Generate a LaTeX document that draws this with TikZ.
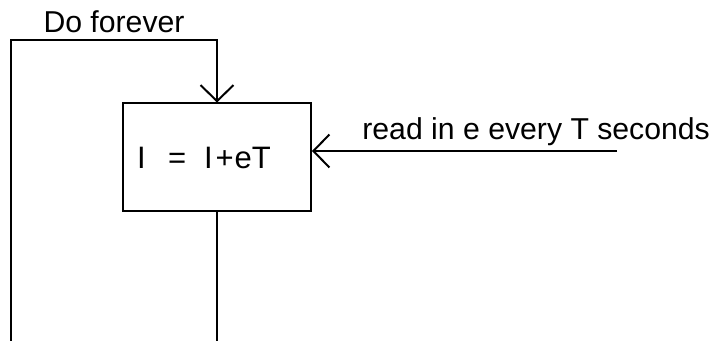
\documentclass[tikz,border=0pt]{standalone}
\usepackage{fontspec}
\setmainfont{Liberation Sans}
\usetikzlibrary{arrows.meta,positioning}
\tikzset{
  % the update block
  blk/.style={rectangle,draw,line width=1pt,minimum width=94pt,minimum height=54pt,inner sep=0pt,font=\fontsize{15.5}{18}\selectfont},
  % wires, with and without open arrow head
  wire/.style={line width=1pt},
  flow/.style={line width=1pt,-{Straight Barb[length=8pt,width=16.5pt,line width=1pt]}},
  % plain text labels
  lbl/.style={inner sep=0pt,font=\fontsize{15.1}{17}\selectfont},
}
\begin{document}
\begin{tikzpicture}[x=0.5pt,y=-0.5pt]
\useasboundingbox (0,0) rectangle (713,341);
\node[blk] (upd) at (217,157.5) {\hspace*{-13pt}I\hspace{11.2pt}=\hspace{8.9pt}I\kern1.4pt+\kern0.5pt eT};
\coordinate (tl) at (11,40);
\coordinate (bl) at (11,341);
\coordinate (src) at (617,151);
%%%%%%%%%%%%%%%%%%%%%%%%%%%%%%%%%%%%%%%
\draw[flow] (bl) -- (tl) -| node[lbl,pos=0.25,above=3pt] (dof) {Do forever} (upd.north);
\draw[wire] (upd.south) -- (upd.south |- bl);
%%%%%%%%%%%%%%%%%%%%%%%%%%%%%%%%%%%%%%%
\draw[flow] (src) -- (src -| upd.east);
\node[lbl,anchor=base west] (rd) at (362,140) {read in e every T seconds};
\end{tikzpicture}
\end{document}
